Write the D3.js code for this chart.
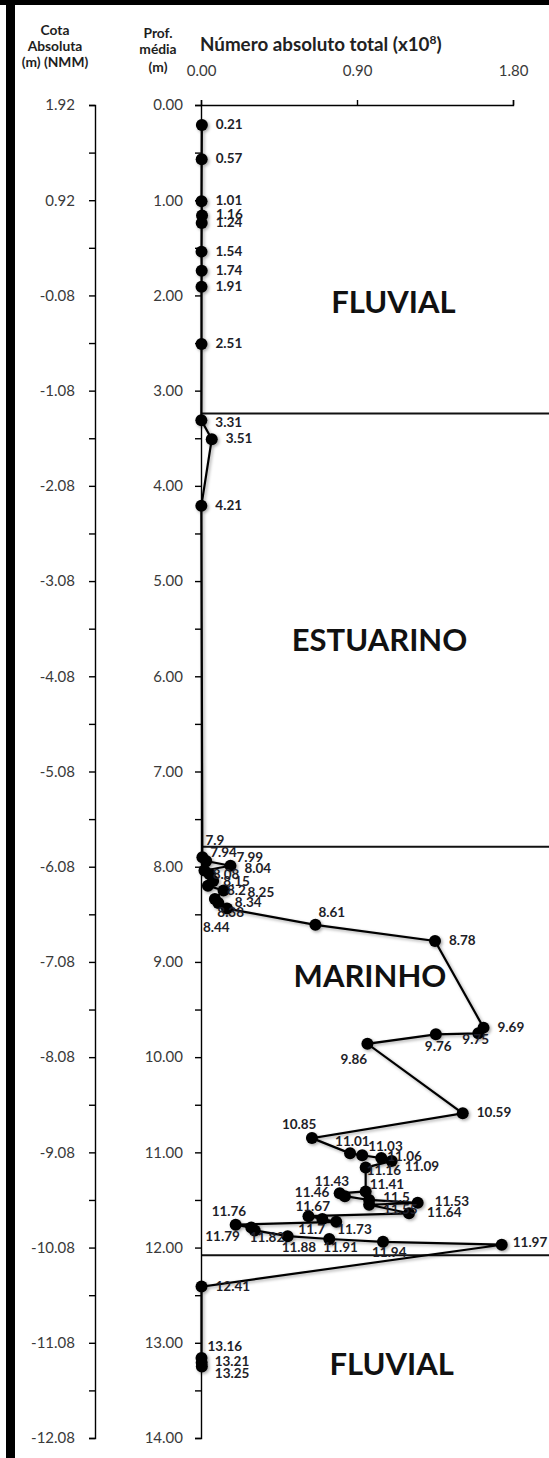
<!DOCTYPE html>
<html>
<head>
<meta charset="utf-8">
<title>Número absoluto total</title>
<script src="https://cdnjs.cloudflare.com/ajax/libs/d3/7.8.5/d3.min.js"></script>
<style>
  body { margin: 0; background: #fff; font-family: Lato, sans-serif; }
  .axis path, .axis line { stroke: #000; stroke-width: 1.4; }
  .axis text { font-family: Lato, sans-serif; font-size: 15px; fill: #3a3a3a; }
  .hdr { font-family: Lato, sans-serif; font-weight: bold; font-size: 13.8px; fill: #1e1e1e; }
  .lbl { font-family: Lato, sans-serif; font-weight: bold; font-size: 13.5px; fill: #1e1e28; }
  .zone { font-family: Lato, sans-serif; font-weight: bold; font-size: 31px; fill: #111; }
</style>
</head>
<body>
<div id="chart"></div>
<script>
// sample depth (m) and total absolute number (x10^8)
const depths = [0.21, 0.57, 1.01, 1.16, 1.24, 1.54, 1.74, 1.91, 2.51, 3.31, 3.51, 4.21,
  7.9, 7.94, 7.99, 8.04, 8.08, 8.15, 8.2, 8.25, 8.34, 8.38, 8.44, 8.61, 8.78,
  9.69, 9.75, 9.76, 9.86, 10.59, 10.85, 11.01, 11.03, 11.06, 11.09, 11.16,
  11.41, 11.43, 11.46, 11.5, 11.53, 11.55, 11.64, 11.67, 11.7, 11.73, 11.76,
  11.79, 11.82, 11.88, 11.91, 11.94, 11.97, 12.41, 13.16, 13.21, 13.25];
const totals = [0.005, 0.004, 0.003, 0.006, 0.004, 0.003, 0.004, 0.003, 0.003, 0.002, 0.062, 0.002,
  0.008, 0.03, 0.17, 0.02, 0.05, 0.07, 0.04, 0.13, 0.08, 0.10, 0.15, 0.66, 1.35,
  1.63, 1.60, 1.355, 0.96, 1.51, 0.64, 0.86, 0.93, 1.04, 1.10, 0.95,
  0.95, 0.80, 0.83, 0.97, 1.25, 0.97, 1.20, 0.62, 0.70, 0.78, 0.20,
  0.29, 0.31, 0.50, 0.74, 1.05, 1.735, 0.003, 0.003, 0.004, 0.005];

const xTicks = [0, 0.9, 1.8];
const zoneNames = ["FLUVIAL", "ESTUARINO", "MARINHO", "FLUVIAL"];
const zoneBounds = [3.24, 7.79, 12.08];   // depth of the limits between zones
const surfaceCota = 1.92;                // cota of depth 0

// layout only: where the zone names sit (value, depth) and label nudges (px)
const zonePos = [[1.11, 2.18], [1.03, 5.73], [0.975, 9.26], [1.10, 13.34]];
const nudge = {
  "3.31": [14, 7], "7.9": [3, -12], "7.94": [4, -4], "7.99": [6, -4], "8.04": [40, 2],
  "8.08": [3, 5], "8.15": [10, 5], "8.2": [19, 9], "8.25": [24, 6], "8.34": [20, 8],
  "8.38": [-1, 14], "8.44": [-24, 23], "8.61": [3, -8], "9.75": [-16, 11], "9.76": [-11, 17],
  "9.86": [-27, 20], "10.85": [-30, -9], "11.01": [-15, -7], "11.03": [6, -4], "11.06": [6, 3],
  "11.09": [13, 10], "11.16": [1, 7], "11.41": [4, -2], "11.43": [-25, -7], "11.46": [-50, 1],
  "11.5": [14, 2], "11.53": [17, 3], "11.55": [14, 9], "11.64": [18, 4], "11.67": [-13, -5],
  "11.7": [-24, 15], "11.73": [1, 12], "11.76": [-24, -9], "11.79": [-46, 13], "11.82": [-5, 12],
  "11.88": [-6, 16], "11.91": [-6, 13], "11.94": [-11, 15], "11.97": [11, 2],
  "13.16": [6, -7], "13.21": [13, 3], "13.25": [13, 11]
};

const W = 549, H = 1458;
const svg = d3.select('#chart').append('svg').attr('width', W).attr('height', H);

const defs = svg.append('defs');
defs.append('filter').attr('id', 'shadow').attr('x', '-50%').attr('y', '-50%').attr('width', '200%').attr('height', '200%')
  .append('feDropShadow').attr('dx', 1.5).attr('dy', 1.5).attr('stdDeviation', 1.5)
  .attr('flood-color', '#000').attr('flood-opacity', 0.35);

// frame bars
svg.append('rect').attr('x', 0).attr('y', 0).attr('width', W).attr('height', 5).attr('fill', '#000');
svg.append('rect').attr('x', 6).attr('y', 0).attr('width', 9).attr('height', H).attr('fill', '#000');

const x = d3.scaleLinear().domain([0, 1.8]).range([201, 513]);
const y = d3.scaleLinear().domain([0, 14]).range([105, 1438]);
const yCota = d3.scaleLinear().domain([surfaceCota, surfaceCota - 14]).range(y.range());

// zone limits
svg.append('g').selectAll('line').data(zoneBounds).join('line')
  .attr('x1', x(0)).attr('x2', W).attr('y1', d => y(d)).attr('y2', d => y(d))
  .attr('stroke', '#111').attr('stroke-width', 2);

// depth axis
const depthTicks = d3.range(0, 29).map(i => i * 0.5);
svg.append('g').attr('class', 'axis').attr('transform', `translate(${x(0)},0)`)
  .call(d3.axisLeft(y).tickValues(depthTicks).tickSize(6).tickPadding(12)
    .tickFormat(d => Number.isInteger(d) ? d.toFixed(2) : ''));

// cota axis
const cotaTicks = d3.range(0, 29).map(i => +(surfaceCota - i * 0.5).toFixed(2));
svg.append('g').attr('class', 'axis').attr('transform', 'translate(95,0)')
  .call(d3.axisLeft(yCota).tickValues(cotaTicks).tickSize(6).tickPadding(14)
    .tickFormat((d, i) => i % 2 === 0 ? d.toFixed(2) : ''));

// top value axis
svg.append('g').attr('class', 'axis').attr('transform', `translate(0,${y(0)})`)
  .call(d3.axisTop(x).tickValues(xTicks).tickSize(5).tickPadding(24).tickFormat(d3.format('.2f')));

// headers
const hdr = svg.append('g');
[["Cota", 55, 35], ["Absoluta", 55, 51], ["(m) (NMM)", 55, 67],
 ["Prof.", 158, 38], ["média", 158, 54], ["(m)", 158, 72]].forEach(([t, hx, hy]) => {
  hdr.append('text').attr('class', 'hdr').attr('x', hx).attr('y', hy).attr('text-anchor', 'middle').text(t);
});
const title = svg.append('text').attr('x', 200).attr('y', 51)
  .attr('font-family', 'Lato, sans-serif').attr('font-size', 18.8).attr('font-weight', 'bold').attr('fill', '#222');
title.append('tspan').text('Número absoluto total (x10');
title.append('tspan').attr('font-size', 12).attr('dy', -7).text('8');
title.append('tspan').attr('dy', 7).text(')');

// zone names
svg.append('g').selectAll('text').data(zoneNames).join('text')
  .attr('class', 'zone').attr('text-anchor', 'middle')
  .attr('x', (d, i) => x(zonePos[i][0])).attr('y', (d, i) => y(zonePos[i][1]))
  .text(d => d);

// series
const pts = depths.map((d, i) => ({ depth: d, value: totals[i] }));
const series = svg.append('g').attr('filter', 'url(#shadow)');
series.append('path').datum(pts)
  .attr('fill', 'none').attr('stroke', '#000').attr('stroke-width', 2.2)
  .attr('d', d3.line().x(d => x(d.value)).y(d => y(d.depth)));
series.selectAll('circle').data(pts).join('circle')
  .attr('cx', d => x(d.value)).attr('cy', d => y(d.depth)).attr('r', 6).attr('fill', '#000');

svg.append('g').selectAll('text').data(pts).join('text')
  .attr('class', 'lbl')
  .attr('x', d => x(d.value) + (nudge[String(d.depth)] || [14, 4])[0])
  .attr('y', d => y(d.depth) + (nudge[String(d.depth)] || [14, 4])[1])
  .text(d => String(d.depth));
</script>
</body>
</html>
